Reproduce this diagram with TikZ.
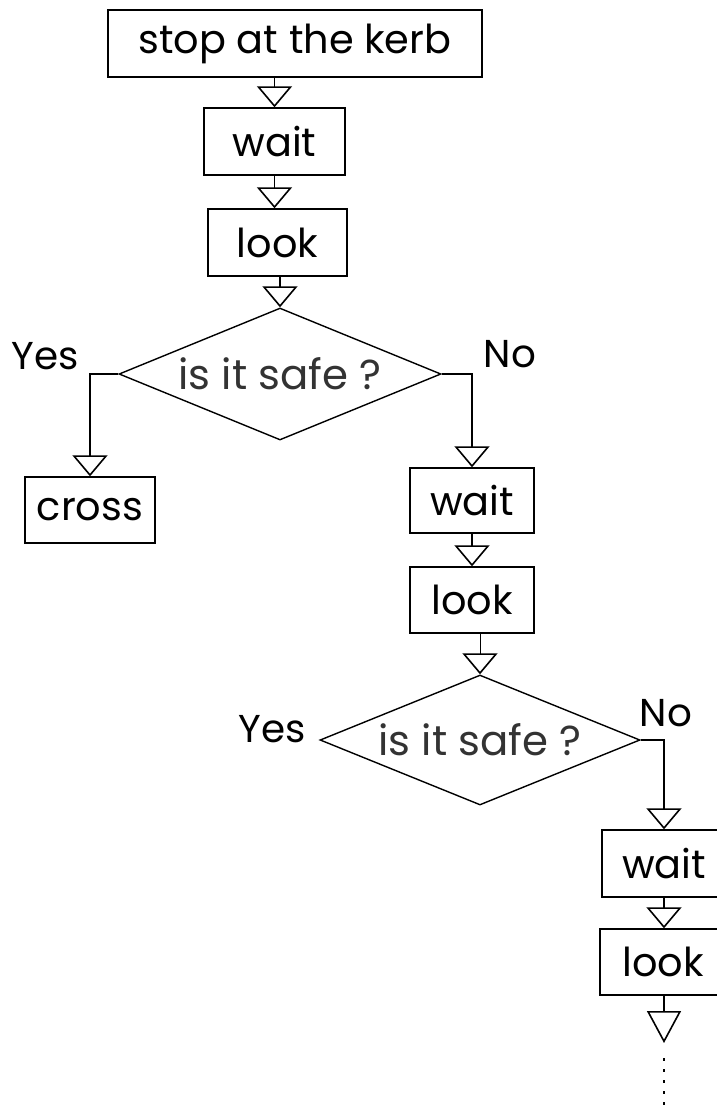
\documentclass[tikz,border=0pt]{standalone}
\usepackage{fontspec}
\setmainfont{Poppins}
\usetikzlibrary{shapes.geometric,arrows.meta}
\begin{document}
\begin{tikzpicture}[x=1bp,y=-1bp,
  box/.style={draw,line width=1.4bp,inner sep=0pt,minimum height=67bp,font=\fontsize{40}{40}\selectfont},
  dec/.style={draw,diamond,aspect=2.44,line width=1.4bp,inner sep=0pt,minimum width=322bp,minimum height=132bp,font=\fontsize{42}{42}\selectfont,text=black!80},
  lbl/.style={inner sep=0pt,font=\fontsize{39}{39}\selectfont},
  flow/.style={line width=1.4bp,-{Triangle[open,length=21bp,width=35bp,line width=1.6bp]}},
  bigflow/.style={line width=1.4bp,-{Triangle[open,length=32bp,width=34bp,line width=1.6bp]}},
  trail/.style={line width=1.4bp,dash pattern=on 3bp off 8bp}]
\clip (0,0) rectangle (717,1112);
\fill[white] (0,0) rectangle (717,1112);
% nodes
\node[box,minimum width=374bp] (kerb) at (295,43.5) {stop at the kerb};
\node[box,minimum width=141bp] (wait1) at (274.5,141.5) {wait};
\node[box,minimum width=139bp] (look1) at (277.5,242.5) {look};
\node[dec] (d1) at (280,374) {is it safe ?};
\node[box,minimum width=130bp,minimum height=66bp] (cross) at (90,510) {cross};
\node[box,minimum width=124bp,minimum height=65bp] (wait2) at (472,500.5) {wait};
\node[box,minimum width=124bp,minimum height=66bp] (look2) at (472,600) {look};
\node[dec,minimum width=320bp,minimum height=130bp] (d2) at (480,740) {is it safe ?};
\node[box,minimum width=124bp] (wait3) at (664,863.5) {wait};
\node[box,minimum width=126bp,minimum height=66bp] (look3) at (663,962) {look};
\coordinate (tri) at (664,1043);
\coordinate (dstart) at (664,1058);
\coordinate (dend) at (664,1115);
% labels
\node[lbl] (yes1) at (45,356) {Yes};
\node[lbl] (no1) at (510,354) {No};
\node[lbl] (yes2) at (272,729) {Yes};
\node[lbl] (no2) at (666,713) {No};
% connectors
\draw[flow] (kerb.south -| wait1.north) -- (wait1.north);
\draw[flow] (wait1.south) -- (wait1.south |- look1.north);
\draw[flow] (look1.south -| d1.north) -- (d1.north);
\draw[flow] (d1.west) -| (cross.north);
\draw[flow] (d1.east) -| (wait2.north);
\draw[flow] (wait2.south) -- (look2.north);
\draw[flow,line width=0.9bp] (look2.south -| d2.north) -- (d2.north);
\draw[flow] (d2.east) -| (wait3.north);
\draw[flow] (wait3.south) -- (wait3.south |- look3.north);
\draw[bigflow] (look3.south -| tri) -- (tri);
\draw[trail] (dstart) -- (dend);
\end{tikzpicture}
\end{document}
